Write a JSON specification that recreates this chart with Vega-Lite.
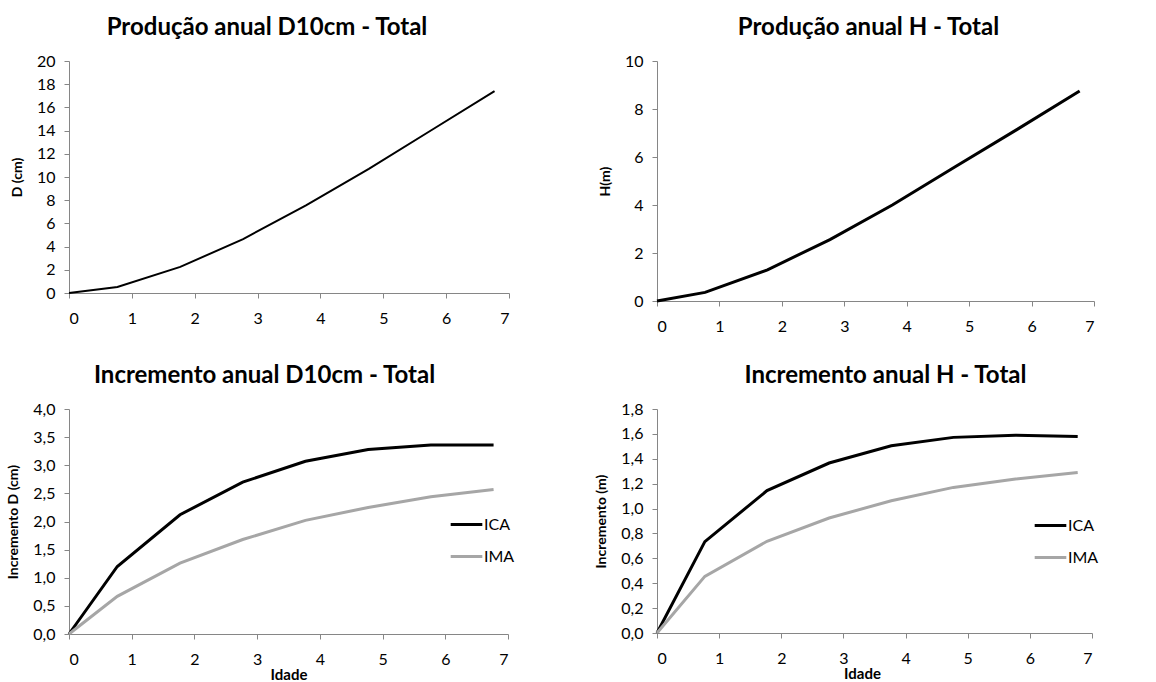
{
  "$schema": "https://vega.github.io/schema/vega-lite/v6.json",
  "background": "white",
  "padding": {"left": 6, "top": 16, "right": 0, "bottom": 0},
  "datasets": {
    "d": [
      {"idade": 0, "valor": 0},
      {"idade": 0.77, "valor": 0.52},
      {"idade": 1.77, "valor": 2.25},
      {"idade": 2.77, "valor": 4.65},
      {"idade": 3.77, "valor": 7.55},
      {"idade": 4.77, "valor": 10.7},
      {"idade": 5.77, "valor": 14.05},
      {"idade": 6.77, "valor": 17.4}
    ],
    "h": [
      {"idade": 0, "valor": 0},
      {"idade": 0.77, "valor": 0.36},
      {"idade": 1.77, "valor": 1.3},
      {"idade": 2.77, "valor": 2.56},
      {"idade": 3.77, "valor": 4.0},
      {"idade": 4.77, "valor": 5.58},
      {"idade": 5.77, "valor": 7.15},
      {"idade": 6.77, "valor": 8.75}
    ],
    "incd": [
      {"idade": 0, "valor": 0, "serie": "ICA"},
      {"idade": 0.77, "valor": 1.2, "serie": "ICA"},
      {"idade": 1.77, "valor": 2.12, "serie": "ICA"},
      {"idade": 2.77, "valor": 2.7, "serie": "ICA"},
      {"idade": 3.77, "valor": 3.07, "serie": "ICA"},
      {"idade": 4.77, "valor": 3.28, "serie": "ICA"},
      {"idade": 5.77, "valor": 3.36, "serie": "ICA"},
      {"idade": 6.77, "valor": 3.36, "serie": "ICA"},
      {"idade": 0, "valor": 0, "serie": "IMA"},
      {"idade": 0.77, "valor": 0.67, "serie": "IMA"},
      {"idade": 1.77, "valor": 1.26, "serie": "IMA"},
      {"idade": 2.77, "valor": 1.68, "serie": "IMA"},
      {"idade": 3.77, "valor": 2.02, "serie": "IMA"},
      {"idade": 4.77, "valor": 2.25, "serie": "IMA"},
      {"idade": 5.77, "valor": 2.44, "serie": "IMA"},
      {"idade": 6.77, "valor": 2.57, "serie": "IMA"}
    ],
    "inch": [
      {"idade": 0, "valor": 0, "serie": "ICA"},
      {"idade": 0.77, "valor": 0.734, "serie": "ICA"},
      {"idade": 1.77, "valor": 1.144, "serie": "ICA"},
      {"idade": 2.77, "valor": 1.366, "serie": "ICA"},
      {"idade": 3.77, "valor": 1.505, "serie": "ICA"},
      {"idade": 4.77, "valor": 1.572, "serie": "ICA"},
      {"idade": 5.77, "valor": 1.589, "serie": "ICA"},
      {"idade": 6.77, "valor": 1.58, "serie": "ICA"},
      {"idade": 0, "valor": 0, "serie": "IMA"},
      {"idade": 0.77, "valor": 0.455, "serie": "IMA"},
      {"idade": 1.77, "valor": 0.737, "serie": "IMA"},
      {"idade": 2.77, "valor": 0.924, "serie": "IMA"},
      {"idade": 3.77, "valor": 1.063, "serie": "IMA"},
      {"idade": 4.77, "valor": 1.17, "serie": "IMA"},
      {"idade": 5.77, "valor": 1.238, "serie": "IMA"},
      {"idade": 6.77, "valor": 1.29, "serie": "IMA"}
    ]
  },
  "vconcat": [
    {
      "hconcat": [
        {
          "width": 440, "height": 232,
          "title": {"text": "Produção anual D10cm - Total", "dx": -22},
          "data": {"name": "d"},
          "mark": {"type": "line", "color": "black", "strokeWidth": 2},
          "encoding": {
            "x": {"field": "idade", "type": "quantitative", "scale": {"domain": [0, 7], "nice": false}, "axis": {"values": [0,1,2,3,4,5,6,7], "format": "d", "title": null}},
            "y": {"field": "valor", "type": "quantitative", "scale": {"domain": [0, 20], "nice": false}, "axis": {"values": [0,2,4,6,8,10,12,14,16,18,20], "format": "d", "title": "D (cm)"}}
          }
        },
        {
          "width": 437, "height": 240,
          "title": {"text": "Produção anual H - Total", "dx": -7},
          "data": {"name": "h"},
          "mark": {"type": "line", "color": "black", "strokeWidth": 3},
          "encoding": {
            "x": {"field": "idade", "type": "quantitative", "scale": {"domain": [0, 7], "nice": false}, "axis": {"values": [0,1,2,3,4,5,6,7], "format": "d", "title": null}},
            "y": {"field": "valor", "type": "quantitative", "scale": {"domain": [0, 10], "nice": false}, "axis": {"values": [0,2,4,6,8,10], "format": "d", "title": "H(m)"}}
          }
        }
      ],
      "spacing": 88
    },
    {
      "hconcat": [
        {
          "width": 439, "height": 225,
          "title": {"text": "Incremento anual D10cm  - Total", "dx": -24},
          "data": {"name": "incd"},
          "mark": {"type": "line", "strokeWidth": 3},
          "encoding": {
            "x": {"field": "idade", "type": "quantitative", "scale": {"domain": [0, 7], "nice": false}, "axis": {"values": [0,1,2,3,4,5,6,7], "format": "d", "title": "Idade"}},
            "y": {"field": "valor", "type": "quantitative", "scale": {"domain": [0, 4], "nice": false}, "axis": {"values": [0,0.5,1,1.5,2,2.5,3,3.5,4], "format": ".1f", "title": "Incremento D (cm)"}},
            "color": {"field": "serie", "type": "nominal", "scale": {"domain": ["ICA", "IMA"], "range": ["#000000", "#a6a6a6"]},
              "legend": {"title": null, "orient": "none", "legendX": 380, "legendY": 98}}
          }
        },
        {
          "width": 435, "height": 224,
          "title": {"text": "Incremento anual H  - Total", "dx": 11},
          "data": {"name": "inch"},
          "mark": {"type": "line", "strokeWidth": 3},
          "encoding": {
            "x": {"field": "idade", "type": "quantitative", "scale": {"domain": [0, 7], "nice": false}, "axis": {"values": [0,1,2,3,4,5,6,7], "format": "d", "title": "Idade", "titleX": 205}},
            "y": {"field": "valor", "type": "quantitative", "scale": {"domain": [0, 1.8], "nice": false}, "axis": {"values": [0,0.2,0.4,0.6,0.8,1,1.2,1.4,1.6,1.8], "format": ".1f", "title": "Incremento (m)"}},
            "color": {"field": "serie", "type": "nominal", "scale": {"domain": ["ICA", "IMA"], "range": ["#000000", "#a6a6a6"]},
              "legend": {"title": null, "orient": "none", "legendX": 376, "legendY": 99}}
          }
        }
      ],
      "spacing": 79,
      "resolve": {"scale": {"color": "independent"}, "legend": {"color": "independent"}}
    }
  ],
  "spacing": 30,
  "resolve": {"scale": {"color": "independent"}, "legend": {"color": "independent"}},
  "config": {
    "locale": {"number": {"decimal": ",", "thousands": ".", "grouping": [3], "currency": ["", " €"]}},
    "font": "Lato",
    "view": {"stroke": null},
    "title": {"font": "Lato", "fontSize": 24, "fontWeight": "bold", "color": "black", "anchor": "middle", "frame": "group", "offset": 13},
    "axis": {
      "grid": false,
      "domainColor": "#868686", "tickColor": "#868686", "tickSize": 5,
      "labelFont": "Lato", "labelFontSize": 16, "labelColor": "black",
      "titleFont": "Lato", "titleFontSize": 14, "titleFontWeight": "bold", "titleColor": "black"
    },
    "axisY": {"labelPadding": 9, "titlePadding": 12},
    "axisX": {"labelPadding": 12, "titleFontSize": 15, "titlePadding": 0},
    "legend": {"symbolType": "stroke", "symbolSize": 1000, "symbolStrokeWidth": 3, "labelFontSize": 16, "labelFont": "Lato", "labelColor": "black", "rowPadding": 6, "labelOffset": 0, "padding": 0}
  }
}
